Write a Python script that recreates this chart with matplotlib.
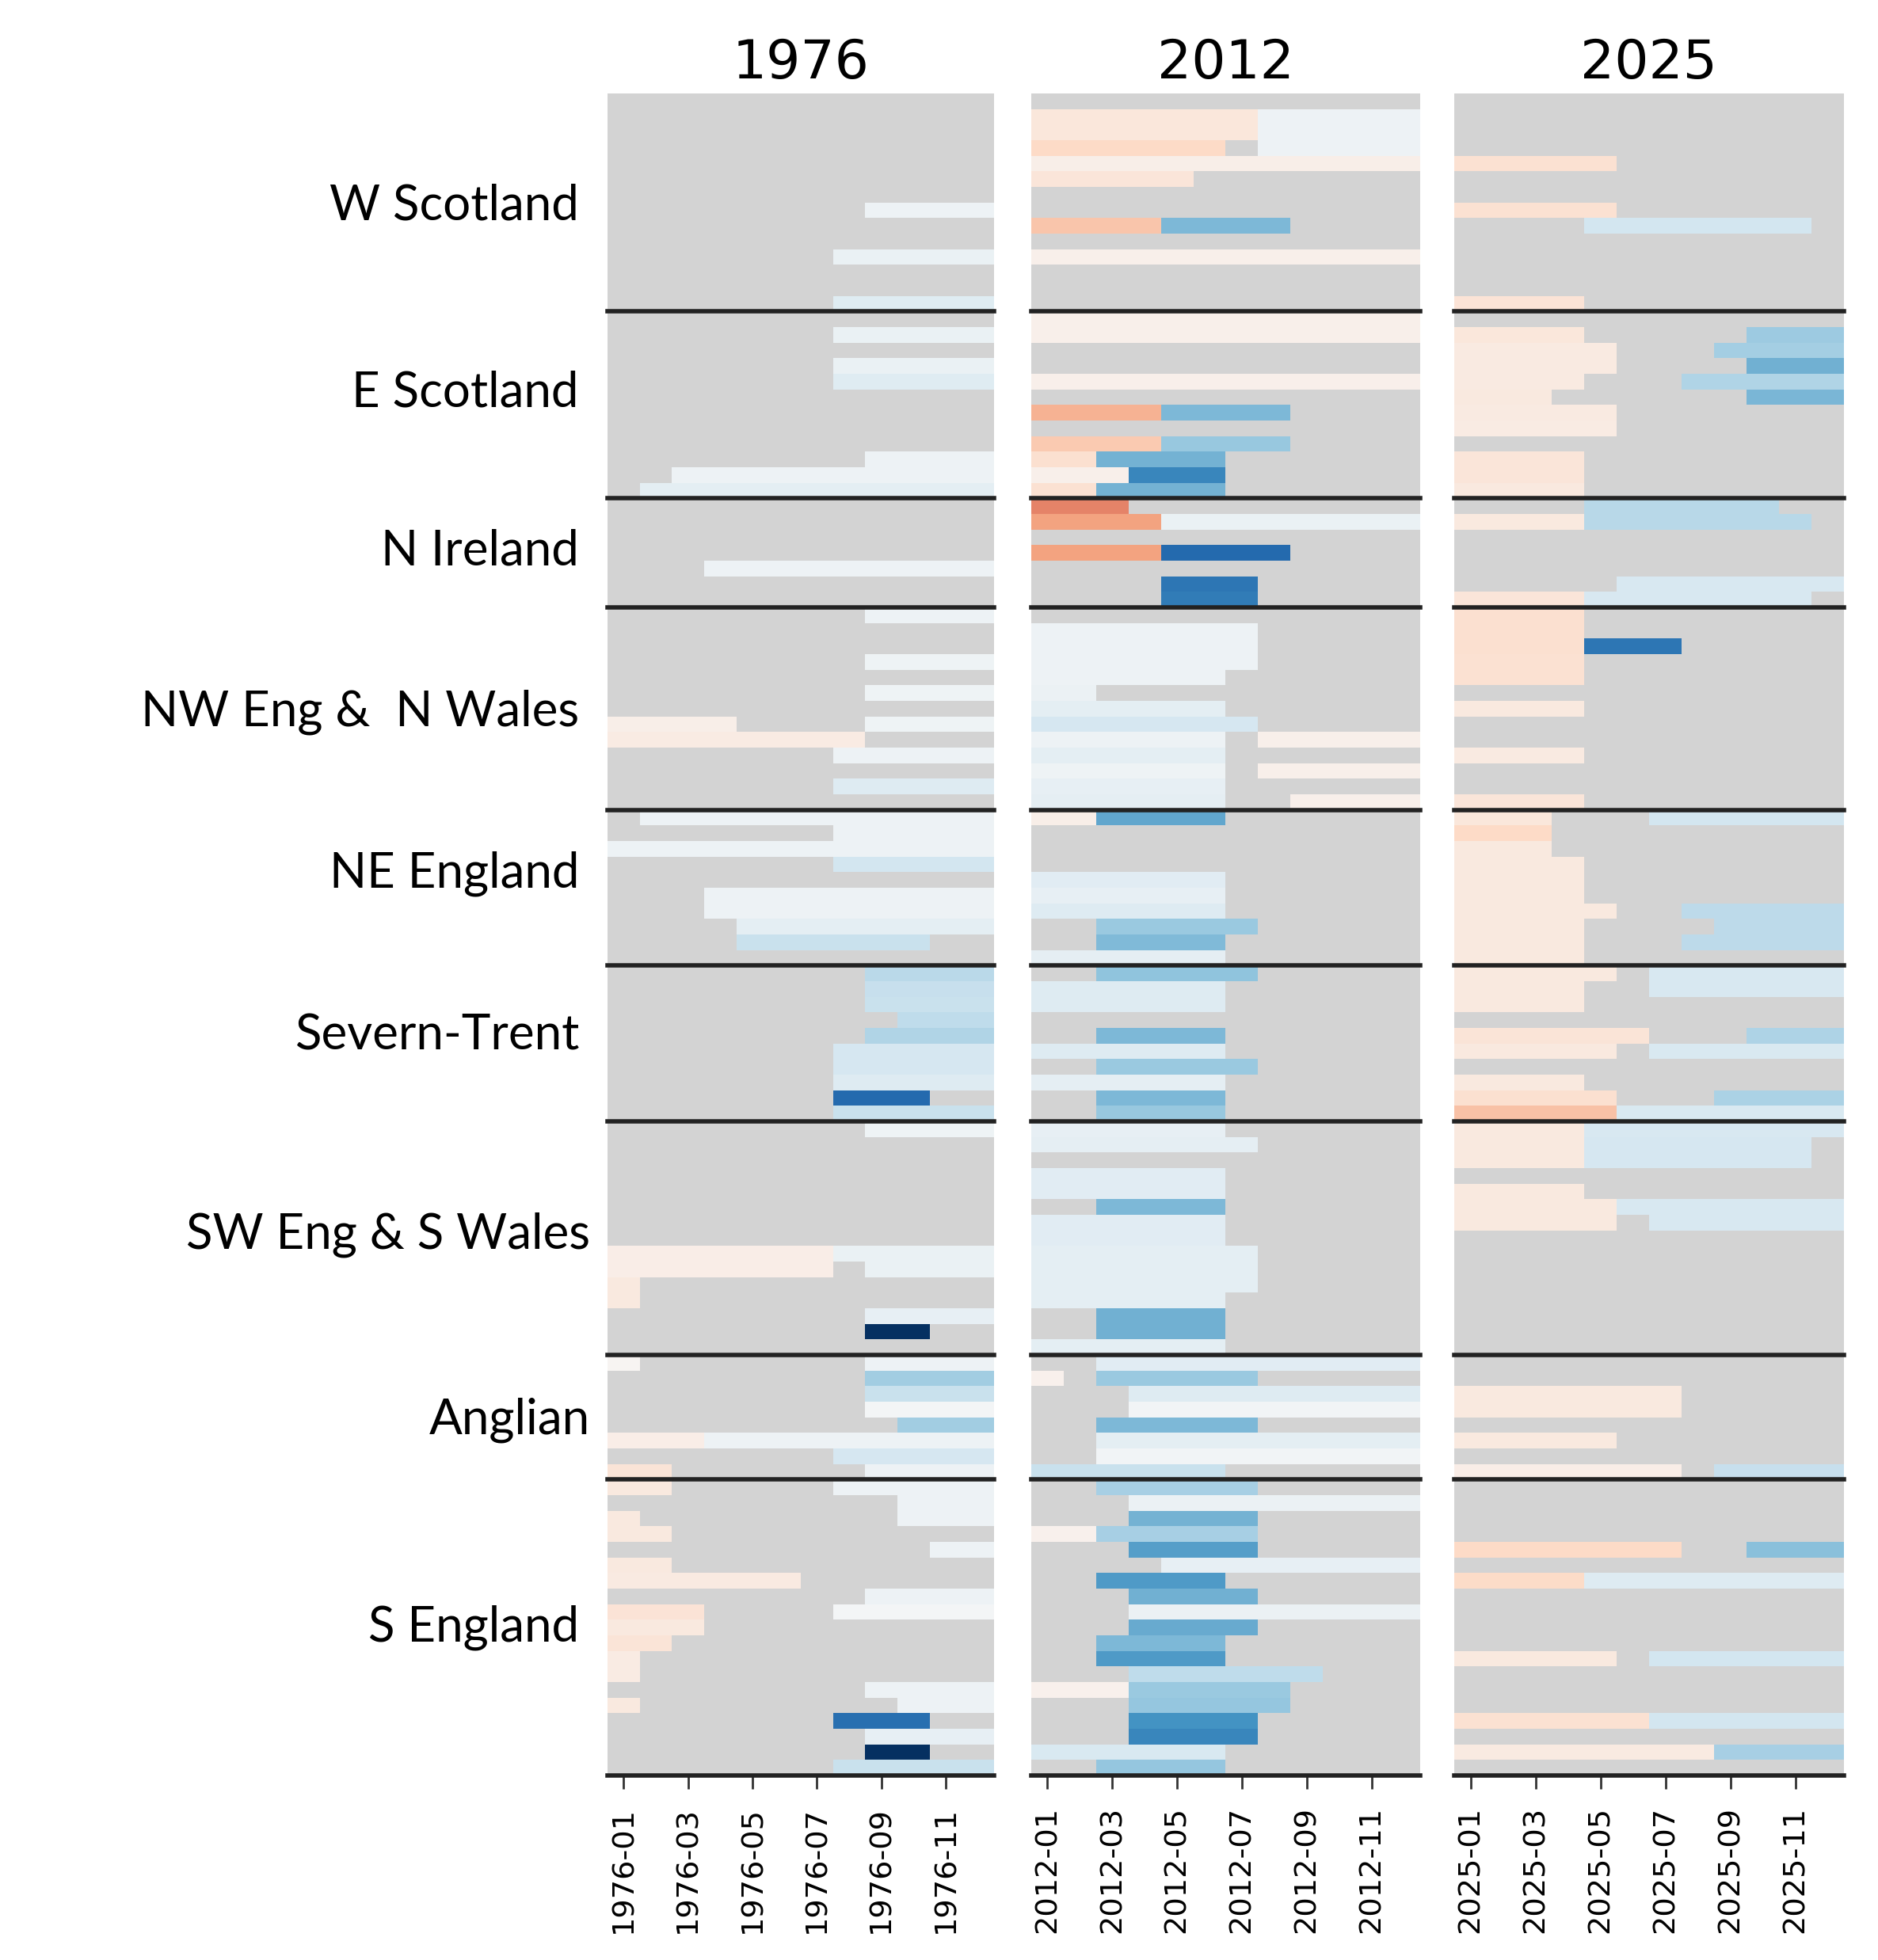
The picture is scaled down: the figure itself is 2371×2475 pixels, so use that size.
import numpy as np
import matplotlib
matplotlib.use("Agg")
import matplotlib.pyplot as plt

# --------------------------------------------- data
years = [1976, 2012, 2025]
n_rows = 108
n_months = 12

regions = ["W Scotland", "E Scotland", "N Ireland", "NW Eng &  N Wales", "NE England",
           "Severn-Trent", "SW Eng & S Wales", "Anglian", "S England"]
region_ends = [14, 26, 33, 46, 56, 66, 81, 89, 108]        # row where each region stops
label_rows = [7.2, 19.2, 29.4, 39.7, 50.1, 60.5, 73.3, 85.2, 98.5]
label_right_px = [731, 731, 731, 731, 731, 731, 745, 745, 731]

# each row: list of (first month, month after last, value); rows left out are empty
runs_1976 = {
    7: [(8, 12, 0.05)], 10: [(7, 12, 0.07)], 13: [(7, 12, 0.12)],
    15: [(7, 12, 0.07)], 17: [(7, 12, 0.07)], 18: [(7, 12, 0.12)],
    23: [(8, 12, 0.05)], 24: [(2, 12, 0.05)], 25: [(1, 12, 0.10)],
    30: [(3, 12, 0.05)], 33: [(8, 12, 0.05)],
    36: [(8, 12, 0.04)], 38: [(8, 12, 0.04)], 40: [(0, 4, -0.06), (8, 12, 0.04)],
    41: [(0, 8, -0.08)], 42: [(7, 12, 0.05)], 44: [(7, 12, 0.13)],
    46: [(1, 12, 0.05)], 47: [(7, 12, 0.05)], 48: [(0, 12, 0.05)], 49: [(7, 12, 0.18)],
    51: [(3, 12, 0.05)], 52: [(3, 12, 0.05)], 53: [(4, 12, 0.10)], 54: [(4, 10, 0.22)],
    56: [(8, 12, 0.27)], 57: [(8, 12, 0.23)], 58: [(8, 12, 0.22)], 59: [(9, 12, 0.25)],
    60: [(8, 12, 0.30)], 61: [(7, 12, 0.17)], 62: [(7, 12, 0.17)], 63: [(7, 12, 0.13)],
    64: [(7, 10, 0.78)], 65: [(7, 12, 0.22)],
    66: [(8, 12, 0.04)], 74: [(0, 7, -0.07), (7, 12, 0.07)], 75: [(0, 7, -0.07), (8, 12, 0.07)],
    76: [(0, 1, -0.10)], 77: [(0, 1, -0.10)], 78: [(8, 12, 0.08)], 79: [(8, 10, 1.0)],
    81: [(0, 1, -0.02), (8, 12, 0.05)], 82: [(8, 12, 0.35)], 83: [(8, 12, 0.22)],
    84: [(8, 12, 0.02)], 85: [(9, 12, 0.35)], 86: [(0, 3, -0.07), (3, 12, 0.05)],
    87: [(7, 12, 0.17)], 88: [(0, 2, -0.13), (8, 12, 0.05)],
    89: [(0, 2, -0.10), (7, 12, 0.05)], 90: [(9, 12, 0.05)], 91: [(0, 1, -0.10), (9, 12, 0.05)],
    92: [(0, 2, -0.10)], 93: [(10, 12, 0.05)], 94: [(0, 2, -0.10)], 95: [(0, 6, -0.09)],
    96: [(8, 12, 0.05)], 97: [(0, 3, -0.14), (7, 12, 0.02)], 98: [(0, 3, -0.10)],
    99: [(0, 2, -0.13)], 100: [(0, 1, -0.08)], 101: [(0, 1, -0.08)], 102: [(8, 12, 0.05)],
    103: [(0, 1, -0.10), (9, 12, 0.05)], 104: [(7, 10, 0.75)], 105: [(8, 12, 0.08)],
    106: [(8, 10, 1.0)], 107: [(7, 12, 0.22)],
}

runs_2012 = {
    1: [(0, 7, -0.11), (7, 12, 0.05)], 2: [(0, 7, -0.11), (7, 12, 0.05)],
    3: [(0, 6, -0.20), (7, 12, 0.05)], 4: [(0, 12, -0.06)], 5: [(0, 5, -0.12)],
    8: [(0, 4, -0.28), (4, 8, 0.45)], 10: [(0, 12, -0.05)],
    14: [(0, 12, -0.05)], 15: [(0, 12, -0.05)], 18: [(0, 12, -0.05)],
    20: [(0, 4, -0.35), (4, 8, 0.45)], 22: [(0, 4, -0.26), (4, 8, 0.38)],
    23: [(0, 2, -0.16), (2, 6, 0.47)], 24: [(0, 3, -0.05), (3, 6, 0.65)],
    25: [(0, 2, -0.15), (2, 6, 0.47)],
    26: [(0, 3, -0.50)], 27: [(0, 4, -0.40), (4, 12, 0.07)],
    29: [(0, 4, -0.40), (4, 8, 0.78)], 31: [(4, 7, 0.72)], 32: [(4, 7, 0.70)],
    34: [(0, 7, 0.05)], 35: [(0, 7, 0.05)], 36: [(0, 7, 0.05)], 37: [(0, 6, 0.05)],
    38: [(0, 2, 0.06)], 39: [(0, 6, 0.10)], 40: [(0, 7, 0.17)],
    41: [(0, 6, 0.05), (7, 12, -0.05)], 42: [(0, 6, 0.10)],
    43: [(0, 6, 0.04), (7, 12, -0.05)], 44: [(0, 6, 0.08)],
    45: [(0, 6, 0.09), (8, 12, -0.05)],
    46: [(0, 2, -0.06), (2, 6, 0.52)], 50: [(0, 6, 0.11)], 51: [(0, 6, 0.08)],
    52: [(0, 6, 0.13)], 53: [(2, 7, 0.37)], 54: [(2, 6, 0.44)], 55: [(0, 6, 0.09)],
    56: [(2, 7, 0.40)], 57: [(0, 6, 0.13)], 58: [(0, 6, 0.13)], 60: [(2, 6, 0.45)],
    61: [(0, 6, 0.13)], 62: [(2, 7, 0.37)], 63: [(0, 6, 0.09)], 64: [(2, 6, 0.45)],
    65: [(2, 6, 0.38)],
    66: [(0, 6, 0.08)], 67: [(0, 7, 0.09)], 69: [(0, 6, 0.11)], 70: [(0, 6, 0.11)],
    71: [(2, 6, 0.45)], 72: [(0, 6, 0.11)], 73: [(0, 6, 0.11)], 74: [(0, 7, 0.10)],
    75: [(0, 7, 0.10)], 76: [(0, 7, 0.10)], 77: [(0, 6, 0.10)], 78: [(2, 6, 0.48)],
    79: [(2, 6, 0.48)], 80: [(0, 6, 0.10)],
    81: [(2, 12, 0.11)], 82: [(0, 1, -0.04), (2, 7, 0.37)], 83: [(3, 12, 0.13)],
    84: [(3, 12, 0.03)], 85: [(2, 7, 0.45)], 86: [(2, 12, 0.10)], 87: [(2, 12, 0.03)],
    88: [(0, 6, 0.22)],
    89: [(2, 7, 0.33)], 90: [(3, 12, 0.06)], 91: [(3, 7, 0.47)],
    92: [(0, 2, -0.04), (2, 7, 0.33)], 93: [(3, 7, 0.55)], 94: [(4, 12, 0.08)],
    95: [(2, 6, 0.57)], 96: [(3, 7, 0.48)], 97: [(3, 12, 0.06)], 98: [(3, 7, 0.50)],
    99: [(2, 6, 0.45)], 100: [(2, 6, 0.57)], 101: [(3, 9, 0.25)],
    102: [(0, 3, -0.04), (3, 8, 0.37)], 103: [(3, 8, 0.39)], 104: [(3, 7, 0.60)],
    105: [(3, 7, 0.65)], 106: [(0, 6, 0.15)], 107: [(2, 6, 0.39)],
}

runs_2025 = {
    4: [(0, 5, -0.15)], 7: [(0, 5, -0.15)], 8: [(4, 11, 0.18)], 13: [(0, 4, -0.14)],
    15: [(0, 4, -0.11), (9, 12, 0.36)], 16: [(0, 5, -0.09), (8, 12, 0.34)],
    17: [(0, 5, -0.09), (9, 12, 0.48)], 18: [(0, 4, -0.09), (7, 12, 0.30)],
    19: [(0, 3, -0.10), (9, 12, 0.46)], 20: [(0, 5, -0.09)], 21: [(0, 5, -0.08)],
    23: [(0, 4, -0.12)], 24: [(0, 4, -0.12)], 25: [(0, 4, -0.10)],
    26: [(4, 10, 0.28)], 27: [(0, 4, -0.10), (4, 11, 0.28)],
    31: [(5, 12, 0.16)], 32: [(0, 4, -0.12), (4, 11, 0.16)],
    33: [(0, 4, -0.16)], 34: [(0, 4, -0.16)], 35: [(0, 4, -0.16), (4, 7, 0.72)],
    36: [(0, 4, -0.15)], 37: [(0, 4, -0.15)], 39: [(0, 4, -0.10)], 42: [(0, 4, -0.09)],
    45: [(0, 4, -0.12)],
    46: [(0, 3, -0.11), (6, 12, 0.18)], 47: [(0, 3, -0.20)], 48: [(0, 3, -0.10)],
    49: [(0, 4, -0.10)], 50: [(0, 4, -0.10)], 51: [(0, 4, -0.10)],
    52: [(0, 5, -0.10), (7, 12, 0.26)], 53: [(0, 4, -0.10), (8, 12, 0.26)],
    54: [(0, 4, -0.10), (7, 12, 0.26)], 55: [(0, 4, -0.10)],
    56: [(0, 5, -0.10), (6, 12, 0.16)], 57: [(0, 4, -0.10), (6, 12, 0.16)],
    58: [(0, 4, -0.10)], 60: [(0, 6, -0.13), (9, 12, 0.31)],
    61: [(0, 5, -0.10), (6, 12, 0.15)], 63: [(0, 4, -0.10)],
    64: [(0, 5, -0.16), (8, 12, 0.32)], 65: [(0, 5, -0.29), (5, 12, 0.15)],
    66: [(0, 4, -0.10), (4, 12, 0.16)], 67: [(0, 4, -0.10), (4, 11, 0.17)],
    68: [(0, 4, -0.10), (4, 11, 0.17)], 70: [(0, 4, -0.10)],
    71: [(0, 5, -0.10), (5, 12, 0.16)], 72: [(0, 5, -0.10), (6, 12, 0.16)],
    83: [(0, 7, -0.10)], 84: [(0, 7, -0.10)], 86: [(0, 5, -0.10)],
    88: [(0, 7, -0.07), (8, 12, 0.23)],
    93: [(0, 7, -0.20), (9, 12, 0.42)], 95: [(0, 4, -0.19), (4, 12, 0.13)],
    100: [(0, 5, -0.10), (6, 12, 0.18)], 104: [(0, 6, -0.15), (6, 12, 0.18)],
    106: [(0, 8, -0.09), (8, 12, 0.33)],
}

all_runs = [runs_1976, runs_2012, runs_2025]


def to_grid(runs):
    grid = np.full((n_rows, n_months), np.nan)
    for row, segs in runs.items():
        for a, b, v in segs:
            grid[row, a:b] = v
    return np.ma.masked_invalid(grid)


# --------------------------------------------- figure
W, H, DPI = 2371, 2475, 200
fig = plt.figure(figsize=(W / DPI, H / DPI), dpi=DPI)

cmap = plt.get_cmap("RdBu").copy()
cmap.set_bad("lightgray")

panel_left_px = [767, 1302, 1836]
panel_w_px = [488, 491, 492]
top_px, bot_px = 118, 2242

axes = []
for i, year in enumerate(years):
    ax = fig.add_axes([panel_left_px[i] / W, 1 - bot_px / H,
                       panel_w_px[i] / W, (bot_px - top_px) / H])
    ax.imshow(to_grid(all_runs[i]), cmap=cmap, vmin=-1, vmax=1, aspect="auto",
              interpolation="nearest", extent=(0, n_months, n_rows, 0))
    ax.set_xlim(0, n_months)
    ax.set_ylim(n_rows, 0)
    for y in region_ends:
        ax.axhline(y, color="#222222", lw=2.0, clip_on=False)
    for s in ax.spines.values():
        s.set_visible(False)
    ax.set_yticks([])
    ax.set_xticks(np.arange(0, 12, 2) + 0.5)
    ax.set_xticklabels([f"{year}-{m:02d}" for m in range(1, 13, 2)], rotation=90)
    ax.tick_params(axis="x", length=6, width=1, color="#333333", labelsize=13.8, pad=8)
    ax.set_title(str(year), fontsize=24.5, pad=7)
    axes.append(ax)

# region names to the left of the first panel
ax0 = axes[0]
for name, yr, xr in zip(regions, label_rows, label_right_px):
    x_ax = (xr - panel_left_px[0]) / panel_w_px[0]
    ax0.text(x_ax, yr, name, transform=ax0.get_yaxis_transform(), ha="right", va="center",
             fontsize=22.3, family="Lato")

fig.savefig("out.png", dpi=DPI)
